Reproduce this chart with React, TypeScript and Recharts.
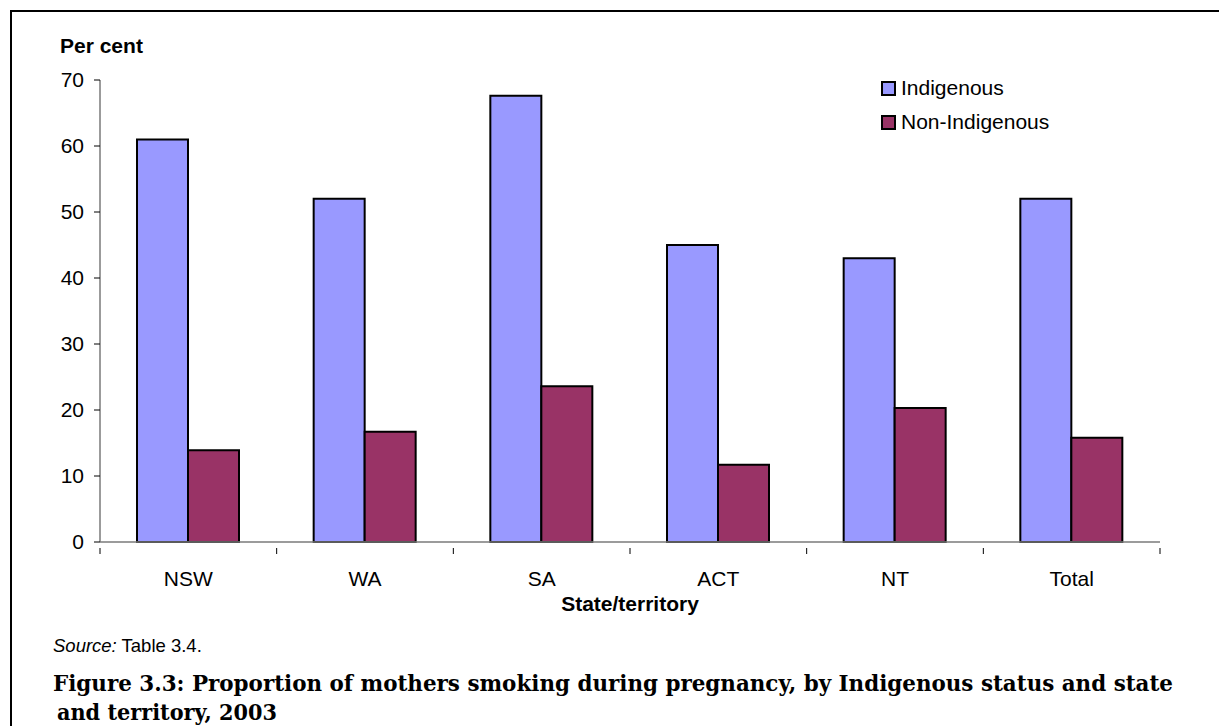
import React from "react";
import { BarChart, Bar, XAxis, YAxis, Legend } from "recharts";

const categories = ["NSW", "WA", "SA", "ACT", "NT", "Total"];
const indigenous = [61.0, 52.0, 67.6, 45.0, 43.0, 52.0];
const nonIndigenous = [13.9, 16.7, 23.6, 11.7, 20.3, 15.8];
const yTicks = [0, 10, 20, 30, 40, 50, 60, 70];
const seriesColors = ["#9999FF", "#993366"];
const seriesNames = ["Indigenous", "Non-Indigenous"];

const data = categories.map((c, i) => ({
  name: c,
  Indigenous: indigenous[i],
  "Non-Indigenous": nonIndigenous[i],
}));

const SANS = "'Liberation Sans', Arial, sans-serif";
const SERIF = "'DejaVu Serif', serif";
const AXIS = "#7a7a7a";

const XTick = (props: any) => {
  const { x, y, payload, index, visibleTicksCount } = props;
  const off = payload.offset || 0;
  const axisY = y - 12;
  const isLast = index === visibleTicksCount - 1;
  return (
    <g>
      <line x1={x - off} x2={x - off} y1={axisY} y2={axisY + 6} stroke="#000" strokeWidth={1} />
      {isLast && (
        <line x1={x + off} x2={x + off} y1={axisY} y2={axisY + 6} stroke="#000" strokeWidth={1} />
      )}
      <text x={x} y={axisY + 38} textAnchor="middle" fontFamily={SANS} fontSize={21} fill="#000">
        {payload.value}
      </text>
    </g>
  );
};

const LegendContent = () => (
  <div style={{ fontFamily: SANS, fontSize: 21, color: "#000", lineHeight: "24px" }}>
    {seriesNames.map((label, i) => (
      <div key={label} style={{ display: "flex", alignItems: "center", height: 34 }}>
        <span
          style={{
            display: "inline-block",
            width: 11,
            height: 11,
            background: seriesColors[i],
            border: "2px solid #000",
            marginRight: 5,
          }}
        />
        <span>{label}</span>
      </div>
    ))}
  </div>
);

export default function App() {
  return (
    <div style={{ position: "absolute", left: 0, top: 0, width: 1219, height: 726, background: "#fff", overflow: "hidden" }}>
      <div
        style={{
          position: "absolute",
          left: 10,
          top: 10,
          width: 1260,
          height: 760,
          borderLeft: "2.5px solid #000",
          borderTop: "2.5px solid #000",
        }}
      />
      <BarChart
        width={1219}
        height={726}
        data={data}
        margin={{ top: 80, right: 59, left: 40, bottom: 144 }}
        barCategoryGap={37}
        barGap={0}
        style={{ position: "absolute", left: 0, top: 0 }}
      >
        <XAxis
          dataKey="name"
          height={40}
          tickLine={false}
          axisLine={{ stroke: AXIS, strokeWidth: 1.5 }}
          tick={<XTick />}
          tickMargin={12}
          interval={0}
        />
        <YAxis
          width={60}
          domain={[0, 70]}
          ticks={yTicks}
          interval={0}
          tickSize={6}
          tickMargin={10}
          axisLine={{ stroke: AXIS, strokeWidth: 1.5 }}
          tickLine={{ stroke: "#000" }}
          tick={{ fontFamily: SANS, fontSize: 21, fill: "#000" }}
        />
        <Legend
          layout="horizontal"
          verticalAlign="middle"
          align="center"
          content={<LegendContent />}
          wrapperStyle={{ left: 881, top: 71, width: 250 }}
        />
        <Bar dataKey="Indigenous" fill={seriesColors[0]} stroke="#000" strokeWidth={2} isAnimationActive={false} />
        <Bar dataKey="Non-Indigenous" fill={seriesColors[1]} stroke="#000" strokeWidth={2} isAnimationActive={false} />
      </BarChart>
      <svg width={1219} height={726} style={{ position: "absolute", left: 0, top: 0, pointerEvents: "none" }}>
        <text x={60} y={53} fontFamily={SANS} fontSize={21} fontWeight="bold" fill="#000">
          Per cent
        </text>
        <text x={630} y={611} textAnchor="middle" fontFamily={SANS} fontSize={21} fontWeight="bold" fill="#000">
          State/territory
        </text>
        <text x={53} y={652} fontFamily={SANS} fontSize={18.5} fill="#000">
          <tspan fontStyle="italic">Source:</tspan> Table 3.4.
        </text>
        <text
          x={53}
          y={691}
          fontFamily={SERIF}
          fontSize={21.4}
          fontWeight="bold"
          fill="#000"
          textLength={1120}
          lengthAdjust="spacingAndGlyphs"
        >
          Figure 3.3: Proportion of mothers smoking during pregnancy, by Indigenous status and state
        </text>
        <text
          x={57}
          y={720}
          fontFamily={SERIF}
          fontSize={21.4}
          fontWeight="bold"
          fill="#000"
          textLength={220}
          lengthAdjust="spacingAndGlyphs"
        >
          and territory, 2003
        </text>
      </svg>
    </div>
  );
}
